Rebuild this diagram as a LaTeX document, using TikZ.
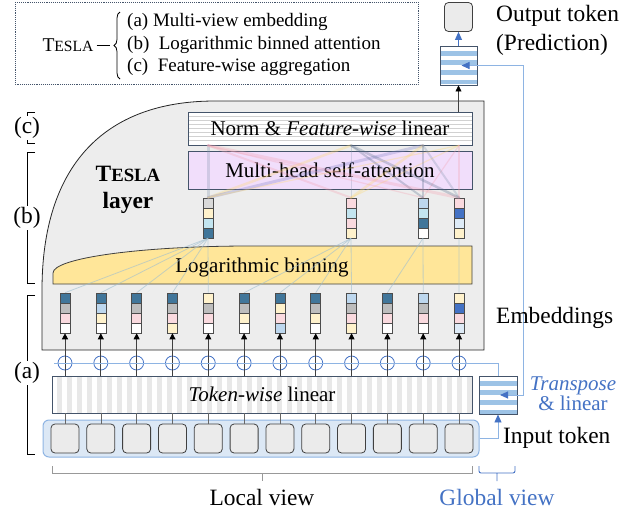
\documentclass[tikz,border=0pt]{standalone}
\usepackage{fontspec}
\usepackage{graphicx}
\setmainfont{Liberation Serif}
\usetikzlibrary{arrows.meta, decorations.pathreplacing}

\definecolor{dteal}{HTML}{41769A}
\definecolor{cgray}{HTML}{BDBDBD}
\definecolor{clgray}{HTML}{D9D9D9}
\definecolor{cpink}{HTML}{FADADF}
\definecolor{cyel}{HTML}{FFF2CC}
\definecolor{clblue}{HTML}{BDD7EE}
\definecolor{ccyan}{HTML}{C3E5F0}
\definecolor{cblue}{HTML}{4472C4}
\definecolor{cpale}{HTML}{DEEBF7}
\definecolor{tblue}{HTML}{4472C4}
\definecolor{lineblue}{HTML}{8EB4E3}
\definecolor{slate}{HTML}{44546A}
\definecolor{layergray}{HTML}{EDEDED}
\definecolor{binyel}{HTML}{FFE699}
\definecolor{attnpurple}{HTML}{F1DEFB}
\definecolor{inblue}{HTML}{DCE8F5}
\definecolor{stripeblue}{HTML}{9DC3E6}
\definecolor{attgray}{HTML}{8497B0}
\definecolor{attyel}{HTML}{FFD966}
\definecolor{attpink}{HTML}{F4A0B0}
\definecolor{attpurp}{HTML}{7F7FC8}
\definecolor{attslate}{HTML}{5A6E8C}
\definecolor{binline}{HTML}{9FBFD0}

\newcommand{\tesla}{T\scalebox{0.8}{ESLA}}
\newcommand{\bigfont}{\fontsize{23.4}{27}\selectfont}
\newcommand{\boxfont}{\fontsize{21}{21}\selectfont}
\newcommand{\keyfont}{\fontsize{19}{22}\selectfont}

% four coloured cells of one embedding, top to bottom
\newcommand{\cells}[6]{%
  \fill[#3] (#1-5,#2) rectangle ++(10,10);
  \fill[#4] (#1-5,#2+10) rectangle ++(10,10);
  \fill[#5] (#1-5,#2+20) rectangle ++(10,10);
  \fill[#6] (#1-5,#2+30) rectangle ++(10,10);
  \draw[cellsep] (#1-5,#2+10) -- ++(10,0) (#1-5,#2+20) -- ++(10,0) (#1-5,#2+30) -- ++(10,0);
}

\begin{document}
\begin{tikzpicture}[x=1pt, y=-1pt,
    lab/.style={inner sep=0pt, font=\bigfont},
    key/.style={inner sep=0pt, anchor=west, font=\keyfont},
    col/.style={draw=black!70, line width=0.6pt, minimum width=10pt, minimum height=40pt, inner sep=0pt},
    cellsep/.style={black!70, line width=0.4pt},
    tok/.style={draw=black!75, fill=black!8, rounded corners=4pt, minimum width=28pt, minimum height=29pt, line width=0.8pt},
    plus/.style={circle, draw=tblue, line width=0.8pt, minimum size=14pt, inner sep=0pt},
    layerbox/.style={draw=slate, line width=0.8pt, minimum width=284pt, inner sep=0pt, font=\boxfont},
    hlines/.style={path picture={\foreach \k in {1,...,7}
        \draw[black!18, line width=1.2pt] ([yshift=-\k*4.1pt]path picture bounding box.north west) -- ([yshift=-\k*4.1pt]path picture bounding box.north east);}},
    vstripes/.style={path picture={\foreach \k in {0,...,41}
        \fill[black!9] ([xshift=5pt+\k*10pt]path picture bounding box.north west) rectangle ([xshift=10pt+\k*10pt]path picture bounding box.south west);}},
    bstripes/.style={path picture={\foreach \k in {1,3,5,7}
        \fill[stripeblue] ([yshift=-\k*4.8pt]path picture bounding box.north west) rectangle ([yshift=-\k*4.8pt-4.8pt]path picture bounding box.north east);}},
    sbox/.style={draw=slate, line width=0.9pt, fill=white, bstripes, inner sep=0pt},
    up/.style={black!75, line width=0.7pt, -{Triangle[length=6pt, width=6pt, color=black]}},
    feed/.style={black!60, line width=0.6pt},
    bline/.style={lineblue, line width=0.9pt},
    btip/.style={-{Triangle[length=8pt, width=7pt, color=tblue]}},
    att/.style={opacity=0.3, line cap=round},
    brk/.style={black, line width=0.8pt},
    brklab/.style={inner sep=1pt, fill=white, font=\bigfont}
  ]
  \useasboundingbox (0,0) rectangle (638,512);

  % legend
  \draw[slate, densely dotted, line width=0.9pt] (15,2) rectangle (418,84);
  \node[inner sep=0pt, font=\fontsize{19.5}{20}\selectfont] (tsl) at (68,45) {\tesla};
  \coordinate (brc) at (113,45);
  \draw[line width=0.7pt] ([xshift=3pt]tsl.east) -- ([xshift=-3pt]brc);
  \draw[line width=0.8pt, decorate, decoration={brace, amplitude=6pt}] (120,79) -- (120,12);
  \node[key] (ka) at (127,22) {(a) Multi-view embedding};
  \node[key] (kb) at (127,45) {(b)\ \ Logarithmic binned attention};
  \node[key] (kc) at (127,67) {(c)\ \ Feature-wise aggregation};

  % TESLA layer
  \draw[fill=layergray, draw=black!85, line width=0.8pt] (42,350) -- (42,290)
    .. controls (42,167) and (103,101) .. (215,101) -- (484,101) -- (484,350) -- cycle;
  \draw[fill=binyel, draw=black!75, line width=0.8pt] (53,284) -- (53,273)
    .. controls (53,258) and (141,246) .. (250,246) -- (472,246) -- (472,284) -- cycle;
  \node[lab, font=\boxfont] (lb) at (262,267) {Logarithmic binning};
  \node[layerbox, fill=white, hlines, minimum height=33pt] (nm) at (330,128.5) {Norm \& \textit{Feature-wise} linear};
  \node[layerbox, fill=attnpurple, minimum height=38pt] (mh) at (330,170) {Multi-head self-attention};
  \node[lab, font=\bigfont\bfseries, align=center] (tl) at (128,190) {\tesla\\layer};

  % binned embeddings
  \cells{208}{198}{clgray}{cyel}{ccyan}{dteal}
  \cells{351}{198}{cpink}{ccyan}{cpink}{cyel}
  \cells{423}{198}{clblue}{ccyan}{dteal}{white}
  \cells{459}{198}{cpink}{cblue}{cpale}{cyel}
  \node[col] (c1) at (208,218) {};
  \node[col] (c2) at (351,218) {};
  \node[col] (c3) at (423,218) {};
  \node[col] (c4) at (459,218) {};

  % input side
  \node[draw=lineblue, fill=inblue, line width=1pt, rounded corners=6pt, minimum width=436pt, minimum height=37pt] (in) at (261,438.5) {};
  \node[draw=slate, line width=0.8pt, fill=white, vstripes, minimum width=420pt, minimum height=37pt, inner sep=0pt, font=\boxfont] (lin) at (262,394.5) {\textit{Token-wise} linear};

  \foreach \i/\a/\b/\c/\d in {1/dteal/cgray/cpink/white, 2/dteal/clblue/cyel/white,
      3/dteal/cgray/cpink/white, 4/dteal/cgray/cpink/cyel, 5/cyel/cgray/cpink/white,
      6/dteal/cgray/cyel/white, 7/dteal/cyel/cpink/clblue, 8/dteal/cgray/cyel/white,
      9/clblue/cgray/cpink/cyel, 10/dteal/cgray/cpink/white, 11/clblue/cgray/cpink/white,
      12/cyel/cblue/cpink/cpale} {
    \pgfmathsetmacro{\x}{65+35.82*(\i-1)}
    \cells{\x}{293}{\a}{\b}{\c}{\d}
    \node[col] (e\i) at (\x,313) {};
    \node[tok] (t\i) at (\x,438.5) {};
    \node[plus] (p\i) at (\x,363) {};
  }

  % binning
  \foreach \a/\b in {1/1, 2/1, 3/1, 4/1, 5/1, 6/2, 7/2, 8/2, 9/2, 10/3, 11/3, 12/4}
    \draw[binline, opacity=0.6, line width=0.8pt] (e\a.north) -- (c\b.south);

  % attention
  \foreach \a/\b/\col/\w in {1/1/attgray/3, 1/2/attyel/2.5, 1/3/attpurp/3, 1/4/attyel/1.2,
      2/1/attpink/2, 2/2/attgray/1, 2/3/attyel/2.5, 2/4/attyel/1.2,
      3/1/attpink/1.2, 3/2/attslate/2, 3/3/attslate/2.5, 3/4/attpink/1.2,
      4/1/attpink/3, 4/2/attslate/2.5, 4/3/attgray/2, 4/4/attpink/1.2}
    \draw[att, draw=\col, line width=\w pt] (c\a.north) -- (c\b.north |- nm.south);

  \foreach \i in {1,...,12} {
    \draw[feed] (t\i.north) -- (t\i.north |- lin.south);
    \draw[up] (t\i |- lin.north) -- (e\i.south);
  }

  % global view and output
  \node[sbox, minimum width=38pt, minimum height=38pt] (tb) at (498,395) {};
  \node[sbox, minimum width=37pt, minimum height=39pt] (ob) at (458.5,65.5) {};
  \node[tok] (ot) at (458.5,17) {};
  \coordinate (rt) at (523,0);
  \draw[bline] (tb.north) |- ([xshift=-4pt]p1.west);
  \draw[bline, btip] (in.east) -| (tb.south);
  \draw[bline, {Triangle[length=8pt, width=7pt, color=tblue]}-{Triangle[length=8pt, width=7pt, color=tblue]}]
    ([xshift=3pt]ob.center) -- (ob.center -| rt) |- ([xshift=2pt]tb.center);
  \draw[up] (nm.north -| ob) -- (ob.south);
  \draw[tblue, line width=0.9pt, btip] (ob.north) -- (ot.south);

  % labels
  \node[lab, anchor=west] (otl) at (496,16) {Output token};
  \node[lab, anchor=west] (pred) at (496,45) {(Prediction)};
  \node[lab, anchor=west] (embl) at (496,318) {Embeddings};
  \node[lab, anchor=west] (inl) at (503,438) {Input token};
  \node[inner sep=0pt, font=\fontsize{21}{20}\selectfont, text=tblue, align=center] (trl) at (573,394) {\textit{Transpose}\\\& linear};

  % parts of the layer
  \draw[brk] (35,112) -- (27,112) -- (27,143) -- (35,143);
  \node[brklab] (lc) at (27,128) {(c)};
  \draw[brk] (35,152) -- (27,152) -- (27,283) -- (35,283);
  \node[brklab] (lbb) at (27,218) {(b)};
  \draw[brk] (35,295) -- (27,295) -- (27,454) -- (35,454);
  \node[brklab] (la) at (27,373) {(a)};

  % views
  \draw[black!40, line width=0.8pt] (52,466) -- (52,473) -- (472,473) -- (472,466) (262,473) -- (262,481);
  \node[lab] (lv) at (262,497) {Local view};
  \draw[tblue, line width=0.9pt, rounded corners=2pt] (479,466) -- (479,473) -- (515,473) -- (515,466) (497,473) -- (497,481);
  \node[lab, text=tblue] (gv) at (497,497) {Global view};
\end{tikzpicture}
\end{document}
